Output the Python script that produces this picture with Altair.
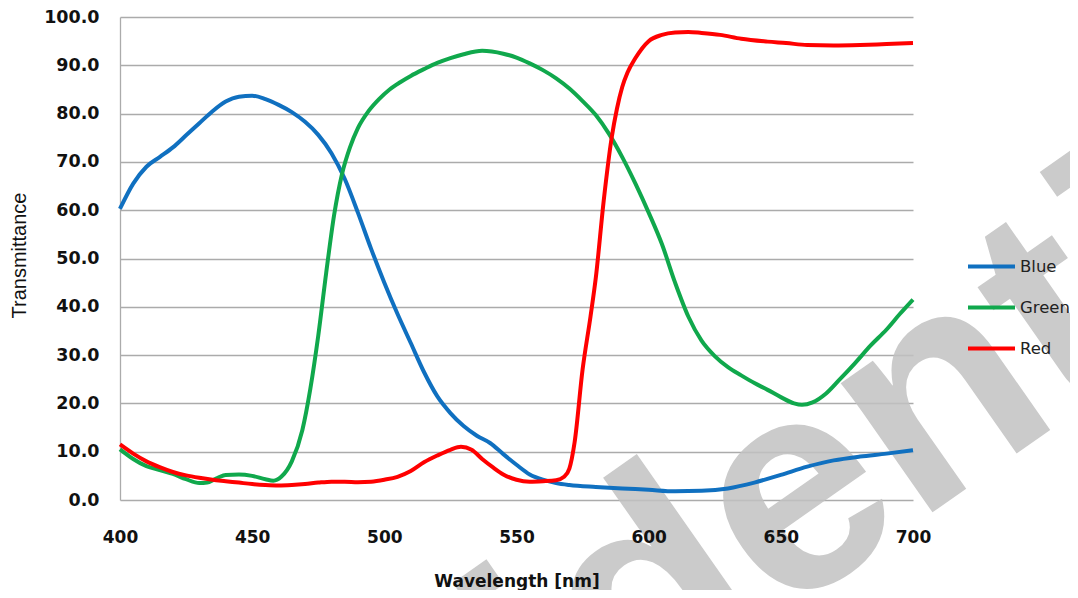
import altair as alt
import pandas as pd

series_names = ["Blue", "Green", "Red"]
series_colors = ["#1070C0", "#10A84C", "#FF0000"]

blue_wl = [400, 405, 410, 415, 420, 425, 430, 435, 440, 445, 450, 455, 460, 465, 470, 475, 480, 485, 490,
           495, 500, 505, 510, 515, 520, 525, 530, 535, 540, 545, 550, 555, 560, 565, 570, 580, 590, 600,
           610, 620, 630, 640, 650, 660, 670, 680, 690, 700]
blue_val = [60.3, 65.5, 69.0, 71.0, 73.0, 75.5, 78.0, 80.5, 82.5, 83.5, 83.7, 83.0, 81.8, 80.3, 78.3, 75.6,
            71.8, 66.5, 59.5, 52.0, 45.0, 38.5, 32.5, 26.5, 21.5, 18.0, 15.3, 13.3, 11.8, 9.5, 7.3, 5.3,
            4.2, 3.5, 3.1, 2.7, 2.4, 2.1, 1.8, 1.9, 2.4, 3.6, 5.2, 6.9, 8.2, 9.0, 9.6, 10.3]

green_wl = [400, 405, 410, 415, 420, 425, 430, 433, 437, 440, 445, 450, 455, 458, 461, 465, 469, 472, 475,
            478, 481, 484, 487, 490, 494, 498, 502, 506, 510, 515, 520, 525, 530, 537, 545, 550, 555, 560,
            565, 570, 575, 580, 585, 590, 595, 600, 605, 610, 615, 620, 625, 630, 635, 640, 645, 650, 655,
            658, 662, 667, 672, 678, 684, 690, 695, 700]
green_val = [10.5, 8.5, 7.0, 6.2, 5.4, 4.3, 3.5, 3.6, 4.6, 5.2, 5.3, 5.0, 4.3, 4.0, 4.8, 8.0, 14.5, 23.0,
             34.0, 47.0, 59.0, 67.5, 73.0, 77.0, 80.5, 83.0, 85.0, 86.5, 87.8, 89.2, 90.5, 91.5, 92.3, 93.0,
             92.4, 91.6, 90.4, 89.0, 87.3, 85.2, 82.6, 79.7, 75.8, 71.0, 65.5, 59.5, 53.0, 45.0, 38.0, 33.0,
             29.8, 27.5, 25.8, 24.2, 22.8, 21.3, 20.0, 19.7, 20.2, 22.0, 24.8, 28.3, 32.0, 35.3, 38.5, 41.5]

red_wl = [400, 405, 410, 415, 420, 425, 430, 435, 440, 445, 450, 455, 460, 465, 470, 475, 480, 485, 490,
          495, 500, 505, 510, 515, 520, 525, 529, 533, 537, 541, 545, 550, 555, 560, 565, 568, 570, 572,
          575, 578, 580, 583, 586, 588, 590, 592, 595, 600, 605, 610, 615, 620, 627, 635, 645, 652, 660,
          670, 680, 690, 700]
red_val = [11.5, 9.6, 8.0, 6.8, 5.8, 5.1, 4.6, 4.2, 3.9, 3.6, 3.3, 3.1, 3.0, 3.1, 3.3, 3.6, 3.8, 3.8, 3.7,
           3.8, 4.2, 4.8, 6.0, 7.8, 9.2, 10.4, 11.0, 10.4, 8.5, 6.8, 5.3, 4.2, 3.8, 3.9, 4.1, 4.8, 6.5,
           12.0, 27.0, 38.0, 46.0, 62.0, 75.0, 81.0, 85.5, 88.5, 91.5, 95.0, 96.3, 96.8, 96.9, 96.7, 96.3,
           95.5, 94.9, 94.6, 94.2, 94.1, 94.2, 94.4, 94.6]

x_ticks = [400, 450, 500, 550, 600, 650, 700]
y_ticks = [0, 10, 20, 30, 40, 50, 60, 70, 80, 90, 100]
watermark_text = ["Confidential"]

rows = []
for name, wl, val in [("Blue", blue_wl, blue_val), ("Green", green_wl, green_val), ("Red", red_wl, red_val)]:
    for w, v in zip(wl, val):
        rows.append({"Series": name, "Wavelength": w, "Transmittance": v})
df = pd.DataFrame(rows)

GRID = "#ababab"
LABEL_FONT = "DejaVu Sans"

watermark = alt.Chart(pd.DataFrame({"t": watermark_text})).mark_text(
    font="Liberation Sans", fontWeight="bold", fontSize=300, color="#c2c2c2", opacity=0.85,
    angle=325, align="center", baseline="middle"
).encode(x=alt.value(539), y=alt.value(577), text="t:N")

lines = alt.Chart(df).mark_line(interpolate="monotone", strokeWidth=4).encode(
    x=alt.X("Wavelength:Q", scale=alt.Scale(domain=[400, 700], nice=False),
            axis=alt.Axis(values=x_ticks, title="Wavelength [nm]", grid=False, domain=False, ticks=False,
                          labelFlush=False, labelOverlap=False, zindex=1,
                          labelFont=LABEL_FONT, labelFontWeight="bold", labelFontSize=17, labelColor="#111",
                          labelPadding=29, titleFont=LABEL_FONT, titleFontWeight="bold", titleFontSize=17,
                          titleColor="#111", titleY=86, titleBaseline="alphabetic")),
    y=alt.Y("Transmittance:Q", scale=alt.Scale(domain=[0, 100], nice=False),
            axis=alt.Axis(values=y_ticks, format=".1f", title="Transmittance", grid=True, gridColor=GRID,
                          gridWidth=1.3, domain=True, domainColor=GRID, domainWidth=1.3, ticks=False,
                          labelFont=LABEL_FONT, labelFontWeight="bold", labelFontSize=17.5, labelColor="#111",
                          labelPadding=21, titleFont="Liberation Sans", titleFontWeight="normal",
                          titleFontSize=20, titleColor="#111", titleX=-95, titleY=238,
                          titleBaseline="alphabetic")),
    color=alt.Color("Series:N", scale=alt.Scale(domain=series_names, range=series_colors),
                    legend=alt.Legend(orient="none", legendX=846, legendY=224, title=None,
                                      symbolType="stroke", symbolSize=2209, symbolStrokeWidth=4,
                                      labelFont=LABEL_FONT, labelFontSize=16.5, labelColor="#222",
                                      labelOffset=3, rowPadding=7, padding=0, zindex=2)),
)

chart = alt.layer(watermark, lines).properties(
    width=793, height=483,
    padding={"left": 112, "top": 9, "right": 157, "bottom": 90},
    autosize=alt.AutoSizeParams(type="none"),
).configure_view(stroke=None)

chart.save("out.html", embed_options={"renderer": "svg", "actions": False})
